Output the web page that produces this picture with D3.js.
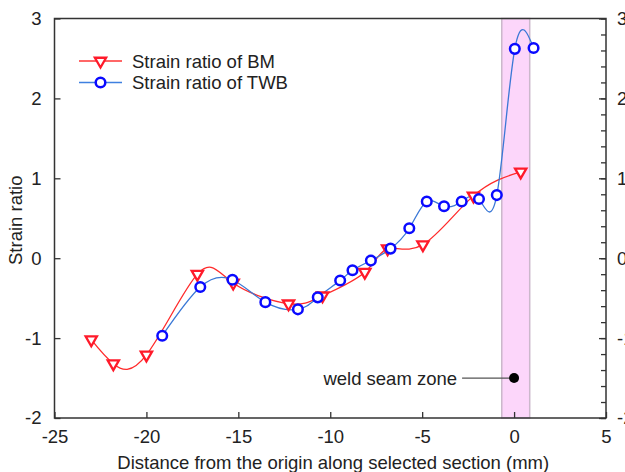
<!DOCTYPE html>
<html><head><meta charset="utf-8">
<script src="https://cdn.jsdelivr.net/npm/d3@7"></script>
<style>body{margin:0;background:#fff}svg{display:block}text{font-family:"Liberation Sans",Arial,sans-serif;fill:#222}</style>
</head><body><svg id="c" width="625" height="472"></svg>
<script>
const bmX = [-23.0, -21.8, -20.0, -17.23, -15.28, -12.27, -10.42, -8.12, -6.88, -4.96, -2.21, 0.36];
const bmY = [-1.02, -1.32, -1.21, -0.20, -0.31, -0.57, -0.47, -0.175, 0.12, 0.17, 0.78, 1.08];
const twbX = [-19.14, -17.07, -15.32, -13.53, -11.76, -10.68, -9.46, -8.79, -7.79, -6.72, -5.70, -4.75, -3.81, -2.85, -1.91, -0.94, 0.04, 1.06];
const twbY = [-0.97, -0.36, -0.27, -0.55, -0.64, -0.49, -0.28, -0.15, -0.03, 0.12, 0.375, 0.71, 0.65, 0.71, 0.74, 0.79, 2.62, 2.63];
const xTicks = [-25, -20, -15, -10, -5, 0, 5];
const yTicks = [-2, -1, 0, 1, 2, 3];
const weldZone = [-0.67, 0.85];
const weldPoint = [0, -1.5];
const legendLabels = ["Strain ratio of BM", "Strain ratio of TWB"];

const svg = d3.select("#c");
const L = 54.5, R = 606, T = 18.5, B = 418;
const x = d3.scaleLinear().domain([-25, 5]).range([L, R]);
const y = d3.scaleLinear().domain([-2, 3]).range([B, T]);
const FS = "18.5px";
const fmt = d => String(d);

// weld zone
svg.append("rect").attr("x", x(weldZone[0])).attr("y", T)
  .attr("width", x(weldZone[1]) - x(weldZone[0])).attr("height", B - T)
  .attr("fill", "#fcd6fa").attr("stroke", "#cbb8cb").attr("stroke-width", 1.5);

// lines
const bm = bmX.map((v, i) => [v, bmY[i]]);
const twb = twbX.map((v, i) => [v, twbY[i]]);
const line = d3.line().x(d => x(d[0])).y(d => y(d[1])).curve(d3.curveNatural);
svg.append("path").attr("d", line(bm)).attr("fill", "none").attr("stroke", "#ff2a2a").attr("stroke-width", 1.3);
svg.append("path").attr("d", line(twb)).attr("fill", "none").attr("stroke", "#3a78d6").attr("stroke-width", 1.3);

// markers
const tri = d3.symbol().type(d3.symbolTriangle).size(55);
function triMark(g, cx, cy) {
  g.append("path").attr("d", tri()).attr("transform", `translate(${cx},${cy}) rotate(180)`)
    .attr("fill", "#fff").attr("stroke", "#ff1a2a").attr("stroke-width", 2.3);
}
bm.forEach(d => triMark(svg, x(d[0]), y(d[1])));
twb.forEach(d => svg.append("circle").attr("cx", x(d[0])).attr("cy", y(d[1])).attr("r", 4.8)
  .attr("fill", "#fff").attr("stroke", "#0a0aff").attr("stroke-width", 2.5));

// frame
svg.append("rect").attr("x", L).attr("y", T).attr("width", R - L).attr("height", B - T)
  .attr("fill", "none").attr("stroke", "#333").attr("stroke-width", 1.5);

// bottom axis
const gx = svg.append("g").attr("transform", `translate(0,${B})`)
  .call(d3.axisBottom(x).tickValues(xTicks).tickSizeInner(-6).tickSizeOuter(0).tickPadding(12).tickFormat(fmt));
gx.select(".domain").remove();
gx.selectAll("line").attr("stroke", "#333").attr("stroke-width", 1.3);
gx.selectAll("text").style("font-size", FS).attr("fill", "#222");

// left axis
const gy = svg.append("g").attr("transform", `translate(${L},0)`)
  .call(d3.axisLeft(y).tickValues(yTicks).tickSizeInner(-6).tickSizeOuter(0).tickPadding(13).tickFormat(fmt));
gy.select(".domain").remove();
gy.selectAll("line").attr("stroke", "#333").attr("stroke-width", 1.3);
gy.selectAll("text").style("font-size", FS).attr("fill", "#222");

// right axis with minor ticks
const minor = d3.range(-2, 3.001, 0.2).map(v => Math.round(v * 10) / 10);
const gr = svg.append("g").attr("transform", `translate(${R},0)`);
gr.call(d3.axisRight(y).tickValues(minor).tickSizeInner(-5).tickSizeOuter(0).tickFormat(""));
gr.call(g => g.select(".domain").remove());
gr.selectAll("line").attr("stroke", "#333").attr("stroke-width", 1.3);
const gr2 = svg.append("g").attr("transform", `translate(${R},0)`)
  .call(d3.axisRight(y).tickValues(yTicks).tickSizeInner(-7).tickSizeOuter(0).tickPadding(11).tickFormat(fmt));
gr2.select(".domain").remove();
gr2.selectAll("line").attr("stroke", "#333").attr("stroke-width", 1.3);
gr2.selectAll("text").style("font-size", FS).attr("fill", "#222");

// axis titles
svg.append("text").attr("x", (L + R) / 2 + 3).attr("y", 469).attr("text-anchor", "middle")
  .style("font-size", FS).text("Distance from the origin along selected section (mm)");
svg.append("text").attr("transform", `translate(22,${(T + B) / 2 + 2}) rotate(-90)`).attr("text-anchor", "middle")
  .style("font-size", FS).text("Strain ratio");

// legend
const lg = [{y: 61, c: "#ff3535", type: "tri", mc: "#ff1a2a"}, {y: 82.5, c: "#3f80e0", type: "circ", mc: "#0a0aff"}];
lg.forEach((l, i) => {
  svg.append("line").attr("x1", 79).attr("x2", 122).attr("y1", l.y).attr("y2", l.y).attr("stroke", l.c).attr("stroke-width", 1.3);
  if (l.type === "tri") triMark(svg, 100.5, l.y);
  else svg.append("circle").attr("cx", 100.5).attr("cy", l.y).attr("r", 4.8).attr("fill", "#fff").attr("stroke", l.mc).attr("stroke-width", 2.5);
  svg.append("text").attr("x", 132).attr("y", l.y + 6.5).style("font-size", FS).text(legendLabels[i]);
});

// weld seam annotation
svg.append("line").attr("x1", x(weldPoint[0]) - 52).attr("x2", x(weldPoint[0])).attr("y1", y(weldPoint[1])).attr("y2", y(weldPoint[1]))
  .attr("stroke", "#555").attr("stroke-width", 1.2);
svg.append("circle").attr("cx", x(weldPoint[0])).attr("cy", y(weldPoint[1])).attr("r", 5).attr("fill", "#000");
svg.append("text").attr("x", x(weldPoint[0]) - 57).attr("y", y(weldPoint[1]) + 6.5).attr("text-anchor", "end")
  .style("font-size", FS).text("weld seam zone");
</script></body></html>
